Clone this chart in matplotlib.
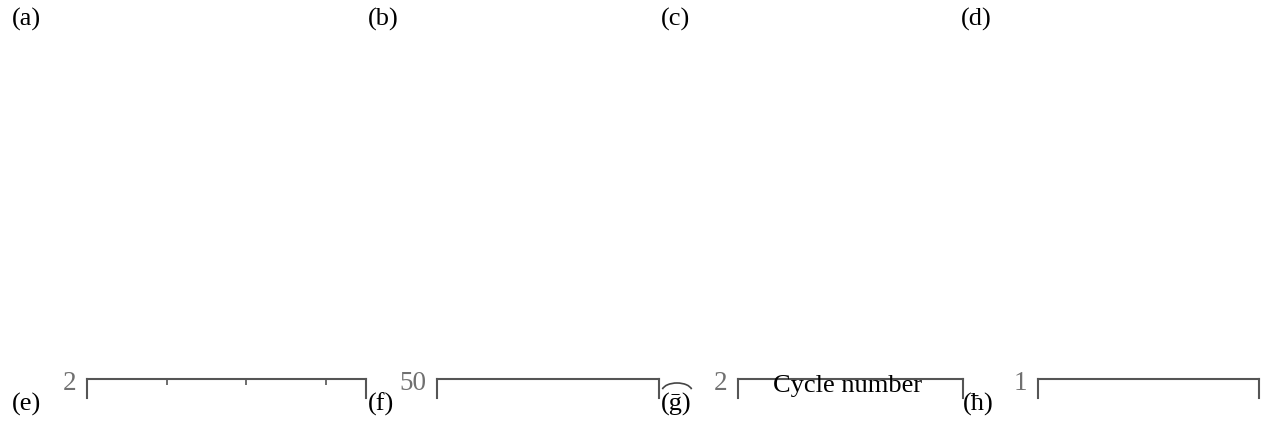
import matplotlib
matplotlib.use('Agg')
import matplotlib.pyplot as plt
from matplotlib.patches import Arc

plt.rcParams['font.family'] = ['Liberation Serif', 'DejaVu Serif']

# panel letters, top and bottom row
top_labels = ['(a)', '(b)', '(c)', '(d)']
bottom_labels = ['(e)', '(f)', '(\u1e21)', '(\u0127)']
# what is left of the bottom row axes: top y value and x ticks
y_top = [2, 50, 2, 1]
x_max = [70, 70, 70, 70]
x_ticks = [[20, 40, 60], [], [], []]
x_label = 'Cycle number'

W, H = 1265, 427
fig = plt.figure(figsize=(W / 100, H / 100), dpi=100)

def fx(px):
    return px / W

def fy(py):
    return 1 - py / H

label_x = [13, 369, 662, 962]
axes_px = [(87, 366), (437, 659), (738, 963), (1038, 1259)]

for lab, x in zip(top_labels, label_x):
    fig.text(fx(x - 1), fy(8), lab, fontsize=19, va='top', ha='left')

for i, (x0, x1) in enumerate(axes_px):
    ax = fig.add_axes([fx(x0), fy(399), fx(x1 - x0), (399 - 380) / H])
    ax.set_xlim(0, x_max[i])
    ax.set_ylim(0, y_top[i])
    ax.set_yticks([y_top[i]])
    ax.set_yticklabels([str(y_top[i])])
    ax.set_xticks(x_ticks[i])
    ax.tick_params(axis='x', which='both', top=True, bottom=False, labeltop=False,
                   labelbottom=False, direction='in', length=4, width=1.2, color='#555555')
    ax.tick_params(axis='y', length=0, pad=8, labelsize=19.5, labelcolor='#707070')
    ax.spines['bottom'].set_visible(False)
    for s in ['top', 'left', 'right']:
        ax.spines[s].set_color('#555555')
        ax.spines[s].set_linewidth(1.5)
    ax.patch.set_alpha(0)

bot_x = [13, 369, 662, 964]
for lab, x in zip(bottom_labels, bot_x):
    fig.text(fx(x - 1), fy(393), lab, fontsize=19, va='top', ha='left')

# stray arc over (g)
fig.patches.append(Arc((fx(677), fy(392)), fx(30), 16 / H, theta1=20, theta2=160,
                       transform=fig.transFigure, color='#444444', lw=1.2))

fig.text(fx(848), fy(392), x_label, fontsize=19, ha='center', va='baseline')

plt.savefig('out.png', dpi=100)
